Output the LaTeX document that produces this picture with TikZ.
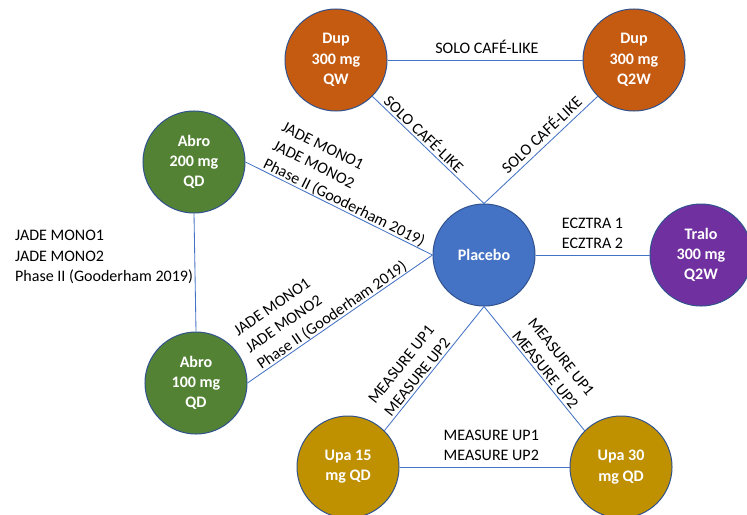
\documentclass[tikz,border=0pt]{standalone}
\usepackage{fontspec}
\setmainfont{Carlito}
\usetikzlibrary{positioning}
\definecolor{dupcol}{HTML}{C55A11}
\definecolor{abrocol}{HTML}{548235}
\definecolor{pbocol}{HTML}{4472C4}
\definecolor{tralocol}{HTML}{7030A0}
\definecolor{upacol}{HTML}{BF9000}
\definecolor{rimcol}{HTML}{2F528F}
\definecolor{linkcol}{HTML}{4472C4}

\begin{document}
\begin{tikzpicture}[x=0.025cm,y=-0.025cm,
  font=\fontsize{11.4}{14.6}\selectfont,
  trt/.style={circle,draw=rimcol,line width=0.7pt,minimum size=2.55cm,inner sep=0pt,
    text=white,font=\fontsize{11.4}{14.4}\selectfont\bfseries,align=center},
  every edge/.style={draw=linkcol,line width=0.6pt},
  lbl/.style={align=center,inner sep=1.5pt},
  flatlbl/.style={align=center,inner sep=4pt},
  trial/.style={align=left,inner sep=0pt}]
\useasboundingbox (0,0) rectangle (747,514);

\node[trt,fill=dupcol]   (dupqw)   at (336,60)  {Dup\\300 mg\\QW};
\node[trt,fill=dupcol]   (dupq2w)  at (634,60)  {Dup\\300 mg\\Q2W};
\node[trt,fill=abrocol]  (abro200) at (194,162) {Abro\\200 mg\\QD};
\node[trt,fill=abrocol]  (abro100) at (196,383) {Abro\\100 mg\\QD};
\node[trt,fill=pbocol]   (pbo)     at (484,255) {Placebo};
\node[trt,fill=tralocol] (tralo)   at (701,255) {Tralo\\300 mg\\Q2W};
\node[trt,fill=upacol]   (upa15)   at (348,467) {Upa 15\\mg QD};
\node[trt,fill=upacol]   (upa30)   at (621,467) {Upa 30\\mg QD};

% connectors snap to the circles' 45 degree points
\path (dupqw.east) edge node[flatlbl,above,pos=0.51] {SOLO CAFÉ-LIKE} (dupq2w.west)
(dupqw.south east)  edge node[lbl,above,sloped,pos=0.41] {SOLO CAFÉ-LIKE} (pbo.north)
(dupq2w.south west) edge node[lbl,above,sloped,pos=0.43,inner sep=3pt] {SOLO CAFÉ-LIKE} (pbo.north)
(abro200.east) edge node[trial,above,sloped,pos=0.51] {JADE MONO1\\JADE MONO2\\Phase II (Gooderham 2019)} (pbo.west)
(abro200.south) edge node[trial,left,pos=0.37,inner sep=1pt] {JADE MONO1\\JADE MONO2\\Phase II (Gooderham 2019)} (abro100.north)
(abro100.east) edge node[trial,above,sloped,pos=0.48] {JADE MONO1\\JADE MONO2\\Phase II (Gooderham 2019)} (pbo.west)
(pbo.east)  edge node[flatlbl,above] {ECZTRA 1\\ECZTRA 2} (tralo.west)
(pbo.south) edge node[lbl,above,sloped,pos=0.61] {MEASURE UP1\\MEASURE UP2} (upa15.north east)
(pbo.south) edge node[lbl,above,sloped,pos=0.55] {MEASURE UP1\\MEASURE UP2} (upa30.north west)
(upa15.east) edge node[flatlbl,above,pos=0.54] {MEASURE UP1\\MEASURE UP2} (upa30.west);
\end{tikzpicture}
\end{document}
